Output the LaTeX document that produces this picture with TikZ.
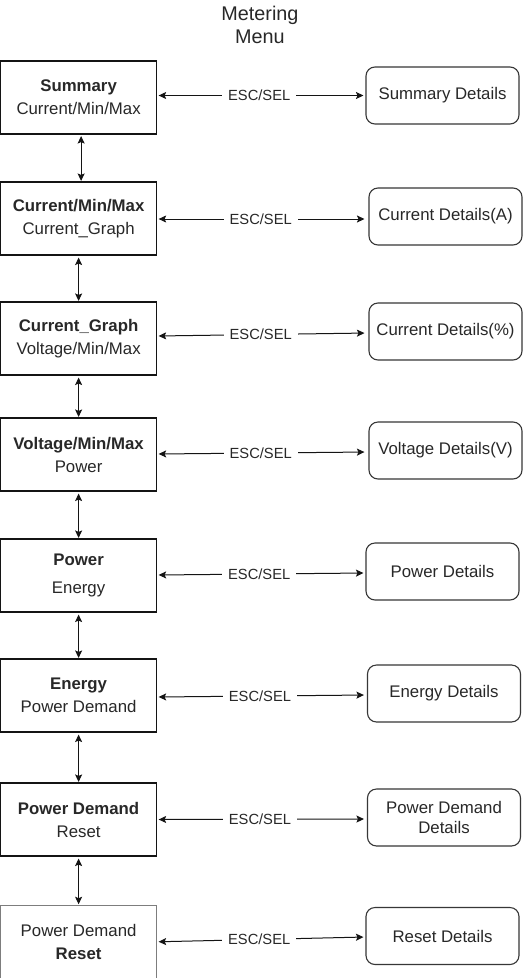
\documentclass[tikz,border=0pt]{standalone}
\usepackage{fontspec}
\setmainfont{Liberation Sans}
\usetikzlibrary{arrows.meta}
\definecolor{txt}{RGB}{40,40,40}
\definecolor{ln}{RGB}{20,20,20}
\definecolor{greyb}{RGB}{125,125,125}
\tikzset{
  menubox/.style={draw=ln, line width=1.1pt, minimum width=156pt, minimum height=73pt,
    inner sep=0pt, align=center, text=txt, font=\fontsize{16.8}{23}\selectfont},
  detailbox/.style={draw=ln!85, line width=1.1pt, rounded corners=9pt, minimum width=153pt,
    minimum height=57pt, inner sep=0pt, align=center, text=txt, font=\fontsize{16.8}{20}\selectfont},
  biarrow/.style={draw=ln, line width=1pt, {Stealth[length=7.5pt,width=7pt,inset=1.5pt]}-{Stealth[length=7.5pt,width=7pt,inset=1.5pt]}},
  esclabel/.style={fill=white, inner xsep=6pt, inner ysep=1pt, text=txt, font=\fontsize{14.7}{17}\selectfont},
  titletext/.style={align=center, text=txt, font=\fontsize{19.8}{23}\selectfont}
}
\begin{document}
\begin{tikzpicture}[x=1pt,y=-1pt]
\useasboundingbox (0,0) rectangle (523,978);
\fill[white] (0,0) rectangle (523,978);

\node[titletext] (title) at (260,24.5) {Metering\\Menu};

% menu boxes
\node[menubox] (L1) at (78.6,97.5) {\textbf{Summary}\\Current/Min/Max};
\node[menubox] (L2) at (78.6,218.5) {\textbf{Current/Min/Max}\\Current\_Graph};
\node[menubox] (L3) at (78.6,338.5) {\textbf{Current\_Graph}\\Voltage/Min/Max};
\node[menubox] (L4) at (78.6,454.5) {\textbf{Voltage/Min/Max}\\Power};
\node[menubox] (L5) at (78.6,575.5) {\textbf{Power}\\[5pt]Energy};
\node[menubox] (L6) at (78.6,695.5) {\textbf{Energy}\\Power Demand};
\node[menubox] (L7) at (78.6,819.5) {\textbf{Power Demand}\\Reset};
\node[menubox, draw=greyb] (L8) at (78.6,941.8) {Power Demand\\\textbf{Reset}};

% detail boxes
\node[detailbox] (R1) at (442.5,95.5) {Summary Details};
\node[detailbox] (R2) at (445.5,216.5) {Current Details(A)};
\node[detailbox] (R3) at (445.5,331.5) {Current Details(\%)};
\node[detailbox] (R4) at (445.5,450.5) {Voltage Details(V)};
\node[detailbox] (R5) at (442.5,571.5) {Power Details};
\node[detailbox] (R6) at (444,693.5) {Energy Details};
\node[detailbox] (R7) at (444,817.5) {Power Demand\\Details};
\node[detailbox] (R8) at (442.5,936) {Reset Details};

% vertical connectors
\draw[biarrow, shorten <=1.5pt, shorten >=0.5pt] ([xshift=2.5pt]L1.south) -- ([xshift=2.5pt]L2.north);
\foreach \a/\b in {L2/L3,L3/L4,L4/L5,L5/L6,L6/L7,L7/L8}{
  \draw[biarrow, shorten <=2pt, shorten >=0.5pt] (\a.south) -- (\b.north);
}

% horizontal connectors
\draw[biarrow, shorten <=1.5pt, shorten >=2pt] ([yshift=2pt]L1.east) -- node[esclabel, pos=0.49]{ESC/SEL} (R1.west);
\draw[biarrow, shorten <=1.5pt, shorten >=4pt] ([yshift=-0.5pt]L2.east) -- node[esclabel, pos=0.49]{ESC/SEL} ([yshift=-2.5pt]R2.west);
\draw[biarrow, shorten <=1.5pt, shorten >=4pt] ([yshift=2.5pt]L3.east) -- node[esclabel, pos=0.49]{ESC/SEL} ([yshift=-1.5pt]R3.west);
\draw[biarrow, shorten <=1.5pt, shorten >=4pt] ([yshift=0.5pt]L4.east) -- node[esclabel, pos=0.49]{ESC/SEL} ([yshift=-1.5pt]R4.west);
\draw[biarrow, shorten <=1.5pt, shorten >=2pt] ([yshift=0.5pt]L5.east) -- node[esclabel, pos=0.49]{ESC/SEL} ([yshift=-1.5pt]R5.west);
\draw[biarrow, shorten <=1.5pt, shorten >=3pt] ([yshift=-1.5pt]L6.east) -- node[esclabel, pos=0.49]{ESC/SEL} ([yshift=-1.5pt]R6.west);
\draw[biarrow, shorten <=1.5pt, shorten >=3pt] (L7.east) -- node[esclabel, pos=0.49]{ESC/SEL} ([yshift=-1.5pt]R7.west);
\draw[biarrow, shorten <=1.5pt, shorten >=2pt] (L8.east) -- node[esclabel, pos=0.49]{ESC/SEL} ([yshift=-1pt]R8.west);
\end{tikzpicture}
\end{document}
